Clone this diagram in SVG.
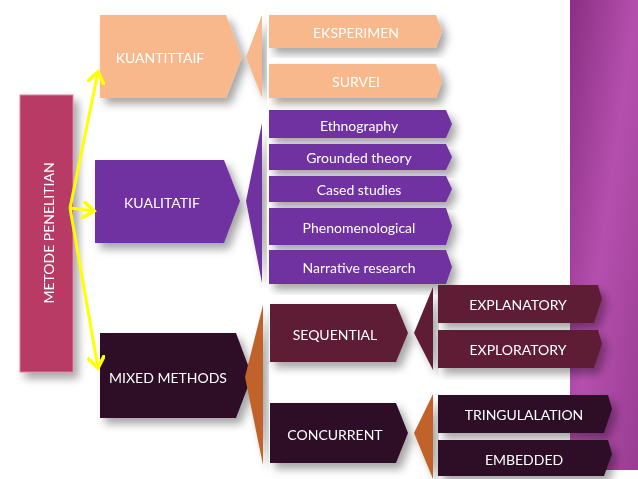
<svg xmlns="http://www.w3.org/2000/svg" width="638" height="479" viewBox="0 0 638 479">
<defs>
<linearGradient id="bg" x1="0" y1="0" x2="1" y2="1"><stop offset="0" stop-color="#8a2f82"/><stop offset="0.5" stop-color="#b54fae"/><stop offset="1" stop-color="#9a3c92"/></linearGradient>
<filter id="sh" x="-20%" y="-20%" width="150%" height="150%"><feDropShadow dx="5" dy="6" stdDeviation="4" flood-color="#000" flood-opacity="0.35"/></filter>
<marker id="ah" markerWidth="6" markerHeight="6" refX="4" refY="3" orient="auto" markerUnits="strokeWidth"><path d="M0,0 L4,3 L0,6" fill="none" stroke="#ffff00" stroke-width="1.2"/></marker>
</defs>
<style>
text{font-family:Lato,"Open Sans",sans-serif;fill:#fff;font-size:14px;text-anchor:middle;dominant-baseline:central}
.o{fill:#f8b88b}.p{fill:#7030a0}.m{fill:#5e1e36}.d{fill:#2e1126}.r{fill:#c0622a}
.s{filter:url(#sh)}
.y{stroke:#ffff00;stroke-width:3;fill:none;marker-end:url(#ah)}
</style>
<rect width="638" height="479" fill="#fff"/>
<rect x="570" y="0" width="68" height="470" fill="url(#bg)"/>
<g id="metode" class="s"><rect x="20" y="95" width="53" height="277" fill="#b83a66" stroke="#e07fa0"/><text transform="translate(48,233) rotate(-90)" font-size="13">METODE PENELITIAN</text></g>
<g id="kuantitatif" class="s"><path class="o" d="M100,15 H226 L242,57 L226,98 H100 Z"/><text x="160" y="57">KUANTITTAIF</text></g>
<path class="o s" d="M262,15 V98 L246,57 Z"/>
<g id="eksperimen" class="s"><path class="o" d="M269,15 H436 L442,31 L436,48 H269 Z"/><text x="356" y="32">EKSPERIMEN</text></g>
<g id="survei" class="s"><path class="o" d="M269,64 H436 L442,81 L436,98 H269 Z"/><text x="356" y="81">SURVEI</text></g>
<g id="kualitatif" class="s"><path class="p" d="M95,160 H224 L240,201 L224,243 H95 Z"/><text x="162" y="202">KUALITATIF</text></g>
<path class="p s" d="M262,123 V283 L246,201 Z"/>
<g id="ethno" class="s"><path class="p" d="M269,110 H446 L452,124 L446,138 H269 Z"/><text x="359" y="125">Ethnography</text></g>
<g id="grounded" class="s"><path class="p" d="M269,144 H446 L452,157 L446,170 H269 Z"/><text x="359" y="157">Grounded theory</text></g>
<g id="cased" class="s"><path class="p" d="M269,176 H446 L452,189 L446,202 H269 Z"/><text x="359" y="189">Cased studies</text></g>
<g id="pheno" class="s"><path class="p" d="M269,208 H446 L452,226 L446,245 H269 Z"/><text x="359" y="227">Phenomenological</text></g>
<g id="narrative" class="s"><path class="p" d="M269,250 H446 L452,267 L446,284 H269 Z"/><text x="359" y="267">Narrative research</text></g>
<g id="mixed" class="s"><path class="d" d="M100,333 H236 L252,376 L236,418 H100 Z"/><text x="168" y="377">MIXED METHODS</text></g>
<path class="r s" d="M263,305 V465 L245,377 Z"/>
<g id="sequential" class="s"><path class="m" d="M270,304 H396 L408,333 L396,362 H270 Z"/><text x="335" y="334">SEQUENTIAL</text></g>
<path class="m s" d="M433,287 V370 L414,333 Z"/>
<g id="explanatory" class="s"><path class="m" d="M438,285 H598 L602,299 L594,323 H438 Z"/><text x="518" y="304">EXPLANATORY</text></g>
<g id="exploratory" class="s"><path class="m" d="M438,330 H598 L602,344 L594,368 H438 Z"/><text x="518" y="349">EXPLORATORY</text></g>
<g id="concurrent" class="s"><path class="d" d="M270,403 H396 L408,433 L396,463 H270 Z"/><text x="335" y="434">CONCURRENT</text></g>
<path class="r s" d="M433,394 V479 L414,433 Z"/>
<g id="tring" class="s"><path class="d" d="M438,395 H608 L612,409 L604,433 H438 Z"/><text x="524" y="414">TRINGULALATION</text></g>
<g id="embedded" class="s"><path class="d" d="M438,440 H608 L612,454 L604,476 H438 Z"/><text x="524" y="459">EMBEDDED</text></g>
<g id="connectors">
<path class="y" d="M70,208 L98,72"/>
<path class="y" d="M70,208 L94,211"/>
<path class="y" d="M70,208 L98,368"/>
</g>
</svg>
